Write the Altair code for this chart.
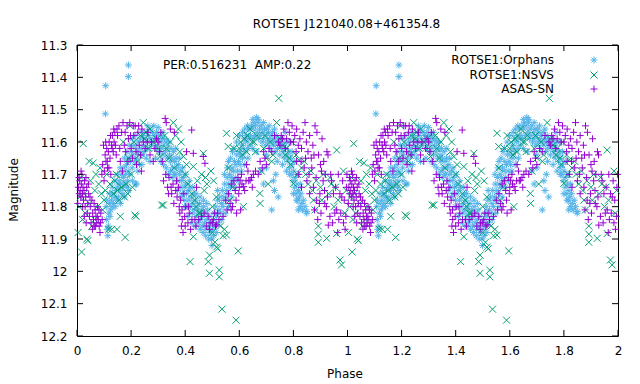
import altair as alt
import pandas as pd

# ---- data (phase, magnitude) for one cycle; the plot shows phase 0-2 ----
orphans = [
    (0.105, 11.513), (0.106, 11.426), (0.190, 11.362), (0.190, 11.398), (0.663, 11.524),
    (0.108, 11.80), (0.110, 11.84), (0.112, 11.87), (0.114, 11.89), (0.116, 11.86), (0.118, 11.82), (0.120, 11.79), (0.122, 11.83), (0.125, 11.81), (0.127, 11.78),
    (0.130, 11.80), (0.132, 11.76), (0.135, 11.79), (0.138, 11.77), (0.141, 11.80), (0.144, 11.75), (0.147, 11.78), (0.150, 11.74), (0.153, 11.77), (0.156, 11.72),
    (0.159, 11.75), (0.162, 11.73), (0.165, 11.70), (0.168, 11.74), (0.171, 11.71), (0.174, 11.68), (0.177, 11.73), (0.180, 11.70), (0.183, 11.67), (0.186, 11.72),
    (0.189, 11.69), (0.192, 11.65), (0.195, 11.70), (0.198, 11.66), (0.201, 11.63), (0.204, 11.68), (0.207, 11.64), (0.210, 11.61), (0.213, 11.66), (0.216, 11.73),
    (0.219, 11.62), (0.222, 11.65), (0.225, 11.60), (0.228, 11.63), (0.231, 11.67), (0.234, 11.59), (0.237, 11.62), (0.240, 11.64), (0.243, 11.58), (0.246, 11.61),
    (0.249, 11.63), (0.252, 11.59), (0.255, 11.62), (0.258, 11.57), (0.261, 11.60), (0.264, 11.58), (0.267, 11.62), (0.270, 11.56), (0.273, 11.59), (0.276, 11.61),
    (0.279, 11.57), (0.282, 11.60), (0.285, 11.58), (0.288, 11.62), (0.291, 11.59), (0.294, 11.57), (0.297, 11.61), (0.300, 11.58), (0.303, 11.63), (0.306, 11.60),
    (0.309, 11.58), (0.312, 11.62), (0.315, 11.59), (0.318, 11.64), (0.321, 11.61), (0.324, 11.59), (0.327, 11.63), (0.330, 11.60), (0.333, 11.65), (0.336, 11.62),
    (0.339, 11.60), (0.342, 11.64), (0.345, 11.66), (0.348, 11.62), (0.351, 11.65), (0.354, 11.68), (0.357, 11.63), (0.360, 11.66), (0.363, 11.70), (0.366, 11.65),
    (0.369, 11.68), (0.372, 11.72), (0.375, 11.67), (0.378, 11.70), (0.381, 11.74), (0.384, 11.69), (0.387, 11.72), (0.390, 11.76), (0.393, 11.71), (0.396, 11.74),
    (0.399, 11.78), (0.402, 11.73), (0.405, 11.76), (0.408, 11.80), (0.411, 11.75), (0.414, 11.78), (0.417, 11.74), (0.420, 11.80), (0.423, 11.77), (0.426, 11.82),
    (0.429, 11.79), (0.432, 11.76), (0.435, 11.81), (0.438, 11.78), (0.441, 11.83), (0.444, 11.80), (0.447, 11.85), (0.450, 11.82), (0.453, 11.79), (0.456, 11.84),
    (0.459, 11.81), (0.462, 11.86), (0.465, 11.83), (0.468, 11.80), (0.471, 11.85), (0.474, 11.82), (0.477, 11.87), (0.480, 11.84), (0.483, 11.81), (0.486, 11.86),
    (0.489, 11.83), (0.492, 11.88), (0.495, 11.85), (0.497, 11.90), (0.499, 11.92), (0.501, 11.87), (0.504, 11.84), (0.507, 11.82), (0.510, 11.86), (0.513, 11.80),
    (0.516, 11.83), (0.519, 11.78), (0.522, 11.85), (0.525, 11.81), (0.528, 11.77), (0.531, 11.82), (0.534, 11.79), (0.537, 11.75), (0.540, 11.80), (0.543, 11.77),
    (0.546, 11.73), (0.549, 11.78), (0.552, 11.75), (0.555, 11.71), (0.558, 11.76), (0.561, 11.73), (0.564, 11.70), (0.567, 11.74), (0.570, 11.71), (0.573, 11.68),
    (0.576, 11.72), (0.579, 11.69), (0.582, 11.66), (0.585, 11.71), (0.588, 11.67), (0.591, 11.64), (0.594, 11.69), (0.597, 11.66), (0.600, 11.63), (0.603, 11.67),
    (0.606, 11.64), (0.609, 11.61), (0.612, 11.65), (0.615, 11.62), (0.618, 11.59), (0.621, 11.63), (0.624, 11.60), (0.627, 11.58), (0.630, 11.62), (0.633, 11.59),
    (0.636, 11.56), (0.639, 11.61), (0.642, 11.58), (0.645, 11.55), (0.648, 11.59), (0.651, 11.56), (0.654, 11.54), (0.657, 11.58), (0.660, 11.55), (0.666, 11.57),
    (0.669, 11.54), (0.672, 11.59), (0.675, 11.56), (0.678, 11.58), (0.681, 11.55), (0.684, 11.60), (0.687, 11.57), (0.690, 11.59), (0.693, 11.56), (0.696, 11.61),
    (0.699, 11.58), (0.702, 11.56), (0.705, 11.60), (0.708, 11.57), (0.711, 11.59), (0.714, 11.62), (0.717, 11.58), (0.720, 11.60), (0.723, 11.57), (0.726, 11.61),
    (0.729, 11.59), (0.732, 11.63), (0.735, 11.60), (0.738, 11.58), (0.741, 11.62), (0.744, 11.59), (0.747, 11.61), (0.750, 11.64), (0.753, 11.60), (0.756, 11.62),
    (0.759, 11.59), (0.762, 11.63), (0.765, 11.61), (0.768, 11.65), (0.771, 11.62), (0.774, 11.60), (0.777, 11.64), (0.780, 11.66), (0.783, 11.63), (0.786, 11.68),
    (0.789, 11.65), (0.792, 11.70), (0.795, 11.67), (0.798, 11.72), (0.801, 11.69), (0.804, 11.74), (0.807, 11.71), (0.810, 11.76), (0.813, 11.73), (0.816, 11.78),
    (0.819, 11.75), (0.822, 11.77), (0.825, 11.80), (0.828, 11.76), (0.831, 11.79), (0.834, 11.81), (0.838, 11.78), (0.843, 11.80), (0.849, 11.82),
    (0.256, 11.65), (0.270, 11.66), (0.290, 11.65), (0.310, 11.66), (0.320, 11.67), (0.330, 11.68), (0.338, 11.70), (0.346, 11.69), (0.352, 11.71),
    (0.560, 11.66), (0.575, 11.63), (0.590, 11.60), (0.600, 11.58), (0.612, 11.57),
    (0.680, 11.69), (0.690, 11.73), (0.700, 11.68), (0.720, 11.81), (0.726, 11.72), (0.730, 11.75), (0.735, 11.70), (0.744, 11.77), (0.787, 11.70),
    (0.812, 11.78), (0.849, 11.815), (0.155, 11.73), (0.170, 11.76), (0.185, 11.74), (0.220, 11.73),
    (0.240, 11.57), (0.262, 11.55), (0.284, 11.55), (0.300, 11.555), (0.318, 11.57),
    (0.360, 11.70), (0.372, 11.75), (0.385, 11.77), (0.398, 11.80), (0.410, 11.83), (0.425, 11.85), (0.437, 11.86),
    (0.365, 11.62), (0.378, 11.65), (0.390, 11.68), (0.402, 11.70), (0.415, 11.72), (0.428, 11.74), (0.440, 11.76),
    (0.455, 11.87), (0.466, 11.88), (0.476, 11.89), (0.487, 11.90), (0.505, 11.89), (0.515, 11.88), (0.455, 11.77), (0.468, 11.78), (0.480, 11.79), (0.520, 11.75),
    (0.535, 11.84), (0.548, 11.82), (0.560, 11.80), (0.572, 11.77), (0.584, 11.74), (0.596, 11.72), (0.608, 11.69), (0.620, 11.67), (0.632, 11.65),
    (0.545, 11.70), (0.556, 11.68), (0.568, 11.65), (0.580, 11.62), (0.620, 11.56), (0.630, 11.55),
    (0.650, 11.53), (0.670, 11.53), (0.690, 11.54), (0.710, 11.55), (0.730, 11.56), (0.650, 11.62), (0.665, 11.63), (0.700, 11.64), (0.740, 11.66), (0.760, 11.67),
    (0.770, 11.57), (0.775, 11.69), (0.785, 11.60), (0.795, 11.63), (0.805, 11.66), (0.815, 11.70), (0.825, 11.73), (0.800, 11.76), (0.818, 11.81),
    (0.110, 11.78), (0.120, 11.76), (0.130, 11.74), (0.140, 11.72), (0.150, 11.70), (0.160, 11.68), (0.175, 11.65), (0.185, 11.63), (0.195, 11.61), (0.205, 11.59),
    (0.215, 11.58), (0.160, 11.79), (0.175, 11.77), (0.190, 11.75), (0.205, 11.72), (0.225, 11.69), (0.240, 11.67),
]

nsvs = [
    (0.004, 11.88), (0.008, 11.80), (0.012, 11.77), (0.017, 11.94), (0.020, 11.84), (0.023, 11.605), (0.026, 11.76), (0.030, 11.82), (0.036, 11.90), (0.040, 11.905),
    (0.045, 11.79), (0.050, 11.72), (0.055, 11.86), (0.060, 11.665), (0.066, 11.75), (0.070, 11.70), (0.075, 11.80), (0.080, 11.73), (0.085, 11.68), (0.090, 11.76),
    (0.100, 11.78), (0.110, 11.70), (0.118, 11.87), (0.122, 11.73), (0.128, 11.87), (0.135, 11.76), (0.140, 11.72), (0.148, 11.87), (0.150, 11.75), (0.155, 11.78),
    (0.160, 11.83), (0.165, 11.74), (0.171, 11.60), (0.175, 11.77), (0.178, 11.895), (0.182, 11.73), (0.188, 11.76), (0.196, 11.55), (0.200, 11.70), (0.205, 11.74),
    (0.214, 11.826), (0.218, 11.83), (0.225, 11.66), (0.235, 11.58), (0.245, 11.54), (0.255, 11.57), (0.265, 11.62), (0.282, 11.60), (0.295, 11.59), (0.307, 11.645),
    (0.313, 11.795), (0.319, 11.795), (0.330, 11.62), (0.340, 11.65), (0.356, 11.54), (0.365, 11.58), (0.375, 11.56), (0.385, 11.60), (0.393, 11.645), (0.400, 11.70),
    (0.410, 11.73), (0.418, 11.97), (0.425, 11.76), (0.430, 11.676), (0.430, 11.893), (0.440, 11.80), (0.450, 11.82), (0.455, 11.82), (0.460, 11.70), (0.467, 11.635),
    (0.475, 11.71), (0.480, 11.73), (0.485, 11.97), (0.490, 11.95), (0.490, 12.006), (0.495, 11.69), (0.500, 11.88), (0.505, 11.72), (0.510, 11.91), (0.516, 11.925),
    (0.520, 11.93), (0.526, 11.996), (0.526, 12.017), (0.530, 11.86), (0.536, 12.117), (0.540, 11.89), (0.545, 11.87), (0.553, 11.888), (0.553, 11.573), (0.559, 11.614),
    (0.565, 11.78), (0.575, 11.74), (0.588, 12.151), (0.590, 11.58), (0.596, 11.937), (0.600, 11.62), (0.605, 11.60), (0.612, 11.64), (0.615, 11.80), (0.620, 11.59),
    (0.627, 11.63), (0.640, 11.56), (0.655, 11.60), (0.665, 11.58), (0.676, 11.759), (0.677, 11.79), (0.682, 11.69), (0.690, 11.62), (0.700, 11.65), (0.707, 11.73),
    (0.715, 11.60), (0.725, 11.64), (0.738, 11.54), (0.746, 11.465), (0.760, 11.61), (0.775, 11.62), (0.785, 11.65), (0.795, 11.60), (0.800, 11.728), (0.810, 11.64),
    (0.820, 11.655), (0.830, 11.68), (0.845, 11.70), (0.855, 11.73), (0.865, 11.69), (0.874, 11.78), (0.880, 11.81), (0.885, 11.72), (0.892, 11.86), (0.892, 11.885),
    (0.892, 11.91), (0.900, 11.74), (0.910, 11.70), (0.923, 11.898), (0.930, 11.76), (0.940, 11.73), (0.950, 11.80), (0.960, 11.625), (0.960, 11.883), (0.965, 11.78),
    (0.972, 11.965), (0.978, 11.98), (0.985, 11.69), (0.990, 11.82),
    (0.015, 11.71), (0.045, 11.66), (0.065, 11.84), (0.095, 11.81), (0.105, 11.75), (0.145, 11.70), (0.190, 11.65), (0.210, 11.60), (0.230, 11.64), (0.250, 11.59),
    (0.270, 11.56), (0.300, 11.62), (0.325, 11.58), (0.345, 11.60), (0.360, 11.68), (0.380, 11.63), (0.405, 11.67), (0.435, 11.78), (0.445, 11.72), (0.470, 11.75),
    (0.500, 11.80), (0.515, 11.77), (0.560, 11.68), (0.580, 11.62), (0.630, 11.58), (0.648, 11.60), (0.660, 11.63), (0.695, 11.58), (0.720, 11.66), (0.750, 11.59),
    (0.770, 11.64), (0.790, 11.67), (0.815, 11.70), (0.840, 11.66), (0.870, 11.75), (0.905, 11.78), (0.935, 11.71), (0.955, 11.74), (0.995, 11.75),
]

asas = [
    (0.005, 11.74), (0.008, 11.76), (0.010, 11.72), (0.012, 11.75), (0.014, 11.77), (0.016, 11.73), (0.018, 11.70), (0.020, 11.76), (0.022, 11.74), (0.024, 11.78),
    (0.026, 11.75), (0.028, 11.72), (0.030, 11.80), (0.032, 11.77), (0.034, 11.85), (0.036, 11.74), (0.038, 11.82), (0.040, 11.79), (0.043, 11.76), (0.046, 11.83),
    (0.049, 11.80), (0.052, 11.85), (0.055, 11.78), (0.058, 11.82), (0.061, 11.84), (0.064, 11.86), (0.067, 11.81), (0.070, 11.83), (0.073, 11.85), (0.076, 11.80),
    (0.079, 11.84), (0.082, 11.86), (0.085, 11.88), (0.088, 11.82), (0.092, 11.70), (0.095, 11.67), (0.098, 11.61), (0.101, 11.69), (0.104, 11.64), (0.107, 11.66),
    (0.110, 11.62), (0.113, 11.68), (0.116, 11.63), (0.119, 11.60), (0.122, 11.65), (0.125, 11.70), (0.128, 11.61), (0.131, 11.58), (0.134, 11.63), (0.137, 11.60),
    (0.140, 11.57), (0.145, 11.64), (0.150, 11.58), (0.155, 11.55), (0.160, 11.66), (0.165, 11.57), (0.170, 11.54), (0.175, 11.61), (0.180, 11.63), (0.185, 11.55),
    (0.190, 11.59), (0.195, 11.54), (0.200, 11.62), (0.205, 11.65), (0.210, 11.58), (0.215, 11.55), (0.220, 11.67), (0.225, 11.57), (0.230, 11.61), (0.235, 11.64),
    (0.240, 11.56), (0.245, 11.60), (0.252, 11.62), (0.260, 11.60), (0.270, 11.64), (0.282, 11.66), (0.294, 11.59), (0.305, 11.63), (0.315, 11.66), (0.320, 11.72),
    (0.326, 11.527), (0.330, 11.54), (0.335, 11.74), (0.340, 11.71), (0.345, 11.56), (0.350, 11.76), (0.355, 11.73), (0.360, 11.57), (0.365, 11.75), (0.370, 11.77),
    (0.375, 11.74), (0.380, 11.82), (0.383, 11.78), (0.386, 11.86), (0.389, 11.84), (0.392, 11.88), (0.395, 11.76), (0.398, 11.83), (0.402, 11.80), (0.405, 11.63),
    (0.410, 11.85), (0.415, 11.82), (0.420, 11.87), (0.424, 11.563), (0.430, 11.635), (0.436, 11.84), (0.442, 11.74), (0.460, 11.83), (0.467, 11.645), (0.473, 11.666),
    (0.478, 11.86), (0.485, 11.83), (0.492, 11.85), (0.500, 11.85), (0.504, 11.84), (0.512, 11.86), (0.516, 11.856), (0.520, 11.82), (0.555, 11.81), (0.566, 11.79),
    (0.570, 11.81), (0.575, 11.80), (0.580, 11.72), (0.585, 11.75), (0.590, 11.82), (0.595, 11.71), (0.600, 11.74), (0.603, 11.718), (0.605, 11.81), (0.610, 11.73),
    (0.616, 11.738), (0.620, 11.75), (0.627, 11.67), (0.635, 11.72), (0.640, 11.718), (0.645, 11.71), (0.652, 11.70), (0.677, 11.66), (0.685, 11.68), (0.690, 11.63),
    (0.700, 11.67), (0.745, 11.60), (0.755, 11.58), (0.765, 11.56), (0.775, 11.59), (0.785, 11.57), (0.795, 11.55), (0.800, 11.60), (0.805, 11.58), (0.812, 11.56),
    (0.818, 11.61), (0.824, 11.59), (0.830, 11.62), (0.836, 11.57), (0.843, 11.54), (0.848, 11.60), (0.854, 11.63), (0.860, 11.58), (0.866, 11.65), (0.872, 11.61),
    (0.880, 11.55), (0.887, 11.57), (0.893, 11.64), (0.900, 11.67), (0.906, 11.59), (0.912, 11.66), (0.918, 11.70), (0.924, 11.63), (0.928, 11.64), (0.812, 11.66),
    (0.820, 11.70), (0.830, 11.74), (0.840, 11.68), (0.850, 11.72), (0.860, 11.76), (0.874, 11.74), (0.878, 11.81), (0.886, 11.78), (0.890, 11.84), (0.898, 11.76),
    (0.902, 11.82), (0.910, 11.72), (0.916, 11.79), (0.922, 11.80), (0.929, 11.857), (0.935, 11.83), (0.941, 11.72), (0.948, 11.76), (0.953, 11.82), (0.960, 11.81),
    (0.964, 11.88), (0.968, 11.84), (0.972, 11.76), (0.979, 11.77), (0.985, 11.85), (0.991, 11.87), (0.996, 11.74),
    (0.003, 11.79), (0.007, 11.71), (0.015, 11.69), (0.021, 11.80), (0.027, 11.83), (0.033, 11.71), (0.042, 11.73), (0.048, 11.77), (0.057, 11.87), (0.063, 11.79),
    (0.069, 11.86), (0.075, 11.83), (0.081, 11.81), (0.087, 11.85), (0.093, 11.84), (0.100, 11.72), (0.106, 11.60), (0.112, 11.66), (0.118, 11.68), (0.124, 11.58),
    (0.130, 11.62), (0.136, 11.56), (0.142, 11.61), (0.148, 11.56), (0.158, 11.62), (0.168, 11.69), (0.178, 11.57), (0.188, 11.66), (0.198, 11.58), (0.208, 11.55),
    (0.218, 11.63), (0.228, 11.55), (0.238, 11.69), (0.262, 11.57), (0.275, 11.60), (0.288, 11.62), (0.300, 11.60), (0.310, 11.57), (0.328, 11.70), (0.338, 11.76),
    (0.348, 11.74), (0.358, 11.79), (0.368, 11.72), (0.378, 11.80), (0.388, 11.81), (0.400, 11.86), (0.412, 11.80), (0.425, 11.84), (0.440, 11.86), (0.450, 11.84),
    (0.470, 11.82), (0.490, 11.87), (0.508, 11.82), (0.525, 11.84), (0.540, 11.83), (0.550, 11.78), (0.560, 11.76), (0.572, 11.73), (0.588, 11.78), (0.598, 11.76),
    (0.608, 11.70), (0.625, 11.72), (0.632, 11.69), (0.648, 11.74), (0.660, 11.69), (0.670, 11.70), (0.695, 11.65), (0.710, 11.62), (0.720, 11.63), (0.730, 11.58),
    (0.750, 11.61), (0.760, 11.59), (0.770, 11.62), (0.780, 11.54), (0.790, 11.60), (0.810, 11.63), (0.828, 11.66), (0.845, 11.65), (0.858, 11.70), (0.868, 11.68),
    (0.876, 11.64), (0.884, 11.71), (0.896, 11.79), (0.904, 11.69), (0.915, 11.75), (0.926, 11.77), (0.938, 11.70), (0.945, 11.85), (0.956, 11.74), (0.966, 11.70),
    (0.975, 11.82), (0.982, 11.72), (0.988, 11.78), (0.994, 11.83), (0.998, 11.70),
]

series_names = ["ROTSE1:Orphans", "ROTSE1:NSVS", "ASAS-SN"]
series_colors = ["#56b4e9", "#009e73", "#9400d3"]
x_ticks = [0, 0.2, 0.4, 0.6, 0.8, 1, 1.2, 1.4, 1.6, 1.8, 2]
y_ticks = [11.3, 11.4, 11.5, 11.6, 11.7, 11.8, 11.9, 12.0, 12.1, 12.2]
title_text = "ROTSE1 J121040.08+461354.8"
note_text = "PER:0.516231\u00a0\u00a0AMP:0.22"
note_pos = (0.318, 11.362)

FONT = "DejaVu Sans"
FS = 12
W, H = 541, 291

STAR = "M-1,0L1,0M0,-1L0,1M-0.7,-0.7L0.7,0.7M-0.7,0.7L0.7,-0.7"
CROSSX = "M-1,-1L1,1M-1,1L1,-1"
PLUS = "M-1,0L1,0M0,-1L0,1"
shapes = [STAR, CROSSX, PLUS]


def two_cycles(pts):
    df = pd.DataFrame(pts, columns=["phase", "mag"])
    df2 = df.copy()
    df2["phase"] = df2["phase"] + 1
    return pd.concat([df, df2], ignore_index=True)


xs = alt.Scale(domain=[0, 2], nice=False, zero=False)
ys = alt.Scale(domain=[11.3, 12.2], reverse=True, nice=False, zero=False)

x_axis = alt.Axis(values=x_ticks, format="~g", tickSize=0, domain=False, grid=False,
                  labelPadding=9, title=None, labelFont=FONT, labelFontSize=FS,
                  labelColor="black", labelFlush=False, labelOverlap=False)
y_axis = alt.Axis(values=y_ticks, format="~g", tickSize=0, domain=False, grid=False,
                  labelPadding=10, title=None, labelFont=FONT, labelFontSize=FS,
                  labelColor="black", labelFlush=False, labelOverlap=False)


def X(field):
    return alt.X(field, scale=xs, axis=x_axis)


def Y(field):
    return alt.Y(field, scale=ys, axis=y_axis)


def scatter(pts, shape, color):
    return alt.Chart(two_cycles(pts)).mark_point(
        shape=shape, filled=False, color=color, strokeWidth=1, size=49, opacity=1
    ).encode(x=X("phase:Q"), y=Y("mag:Q"))


layers = [
    scatter(orphans, shapes[0], series_colors[0]),
    scatter(nsvs, shapes[1], series_colors[1]),
    scatter(asas, shapes[2], series_colors[2]),
]

# inward ticks on all four sides (gnuplot style)
xt = pd.DataFrame({"phase": x_ticks})
yt = pd.DataFrame({"mag": y_ticks})
for y0, y1 in [(H, H - 6), (0, 6)]:
    layers.append(alt.Chart(xt).mark_rule(color="black", strokeWidth=1).encode(
        x=X("phase:Q"), y=alt.value(y0), y2=alt.value(y1)))
for x0, x1 in [(0, 6), (W, W - 6)]:
    layers.append(alt.Chart(yt).mark_rule(color="black", strokeWidth=1).encode(
        y=Y("mag:Q"), x=alt.value(x0), x2=alt.value(x1)))

# annotation
note_df = pd.DataFrame({"phase": [note_pos[0]], "mag": [note_pos[1]], "t": [note_text]})
layers.append(alt.Chart(note_df).mark_text(align="left", baseline="middle", font=FONT,
                                            fontSize=FS, color="black").encode(
    x=X("phase:Q"), y=Y("mag:Q"), text="t:N"))

# key (label left, sample right, like gnuplot)
key_rows = [15, 30, 44]
for name, color, shape, ly in zip(series_names, series_colors, shapes, key_rows):
    d = pd.DataFrame({"t": [name]})
    layers.append(alt.Chart(d).mark_text(align="right", baseline="middle", font=FONT,
                                          fontSize=FS, color="black").encode(
        x=alt.value(477), y=alt.value(ly), text="t:N"))
    layers.append(alt.Chart(d).mark_point(shape=shape, filled=False, color=color,
                                           strokeWidth=1, size=49, opacity=1).encode(
        x=alt.value(517), y=alt.value(ly)))

# title and axis titles
for txt, px, py, ang in [(title_text, W / 2 - 1, -21, 0), ("Phase", 268, 329, 0),
                         ("Magnitude", -63, 145, 270)]:
    d = pd.DataFrame({"t": [txt]})
    layers.append(alt.Chart(d).mark_text(align="center", baseline="middle", font=FONT,
                                          fontSize=FS, color="black", angle=ang).encode(
        x=alt.value(px), y=alt.value(py), text="t:N"))

chart = alt.layer(*layers).properties(
    width=W, height=H,
    autosize=alt.AutoSizeParams(type="none"),
    padding={"left": 69, "top": 37, "right": 14, "bottom": 48},
    background="white",
).configure_view(stroke="black", strokeWidth=1)

chart.save("out.html", embed_options={"renderer": "svg", "actions": False})
